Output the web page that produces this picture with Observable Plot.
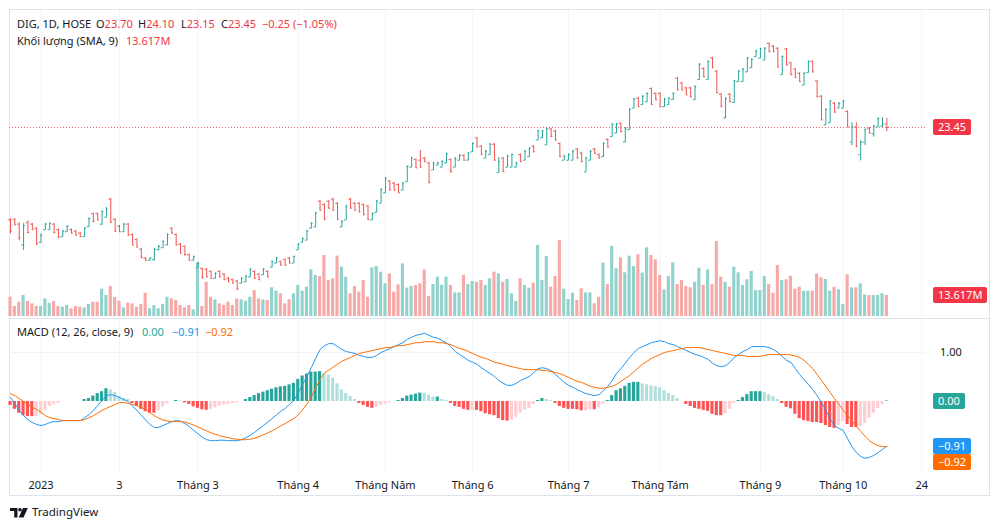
<!DOCTYPE html>
<html><head><meta charset="utf-8">
<script src="https://cdn.jsdelivr.net/npm/d3@7"></script>
<script src="https://cdn.jsdelivr.net/npm/@observablehq/plot@0.6"></script>
<style>
body{margin:0;background:#fff;font-family:"Noto Sans",sans-serif;color:#131722;}
#wrap{position:relative;width:1000px;height:530px;overflow:hidden;background:#fff;}
.t{position:absolute;font-size:11px;line-height:14px;white-space:nowrap;color:#131722;}
.r{color:#f23645;}
.box{position:absolute;color:#fff;font-size:11px;line-height:16px;height:16px;padding:0 5px;border-radius:2px;white-space:nowrap;}
.line{position:absolute;background:#e0e3eb;}
</style></head><body><div id="wrap"></div>
<script>
// ---------- DATA ----------
const opens=[16.8,16.85,16.5,15.0,16.6,16.5,16.2,15.2,16.1,16.1,
16.5,16.1,15.6,15.95,16.1,16.0,15.85,15.6,16.3,17.25,
17.25,16.5,17.0,18.3,16.85,16.35,15.95,16.5,15.75,15.4,
14.7,14.05,13.9,13.95,14.65,14.8,15.0,16.2,15.75,15.05,
14.9,14.3,13.9,13.35,13.3,13.25,13.1,12.6,13.1,12.9,
12.6,12.5,12.4,12.25,12.35,12.7,13.1,12.9,12.85,13.1,
13.4,13.7,13.8,13.95,14.05,13.7,14.65,15.2,15.35,16.2,
16.3,18.15,17.9,18.15,18.3,18.0,16.3,16.8,18.3,18.0,
18.0,17.9,17.8,16.8,17.35,18.0,18.75,19.6,19.45,19.35,
18.95,19.55,20.6,21.15,21.1,21.25,20.9,20.4,20.75,20.6,
20.9,21.15,20.6,21.1,21.45,21.1,21.7,22.7,22.1,21.25,
21.5,22.25,20.2,21.25,20.6,20.6,20.6,21.5,21.1,21.35,
22.1,22.55,22.7,22.2,23.35,23.2,22.3,21.1,21.1,21.1,
21.9,21.6,20.25,21.1,21.9,21.5,21.35,22.6,22.8,23.05,
23.75,22.4,23.3,24.85,25.55,25.1,25.3,26.25,25.9,25.9,
24.95,25.1,25.45,27.0,26.65,26.3,26.3,25.45,26.9,27.7,
26.9,28.45,27.5,25.85,24.15,25.85,25.25,26.75,26.75,27.45,
27.75,28.55,28.45,28.3,29.5,29.3,29.15,27.25,29.1,28.1,
27.65,27.35,26.5,27.4,28.2,26.8,25.7,23.65,23.8,25.2,
24.85,24.85,24.6,22.4,23.5,21.5,22.4,23.4,23.0,23.5,
23.55,23.7];
const highs=[16.9,16.9,16.6,16.55,16.75,16.55,16.25,15.8,16.55,16.6,
16.55,16.15,16.05,16.4,16.15,16.05,15.9,16.25,16.95,17.3,
17.3,17.45,17.7,18.35,16.9,16.4,16.55,16.55,15.8,15.45,
14.75,14.1,14.1,14.75,14.95,15.3,15.8,16.25,15.8,15.1,
14.95,14.35,14.2,13.75,13.35,13.3,13.15,13.0,13.15,12.95,
12.65,12.55,12.45,12.65,12.8,13.3,13.15,12.95,13.3,13.15,
13.85,14.1,13.85,14.0,14.1,14.2,15.1,15.5,16.05,16.6,
17.35,18.2,17.95,18.2,18.35,18.05,16.75,17.85,18.35,18.05,
18.05,17.95,17.85,17.3,18.2,19.05,19.85,19.65,19.5,19.4,
19.5,20.7,21.3,21.2,21.8,21.3,20.95,20.95,20.95,21.05,
21.6,21.2,21.3,21.5,21.5,21.65,22.35,22.75,22.15,21.8,
22.3,22.3,21.3,21.3,21.45,21.55,20.95,21.55,21.8,22.0,
22.15,23.25,23.25,23.4,23.4,23.25,22.35,21.45,21.55,21.8,
21.95,21.65,21.3,21.8,21.95,21.55,22.35,22.65,23.75,23.75,
23.8,23.45,24.8,25.55,25.6,25.75,25.95,26.3,25.95,25.95,
25.55,25.6,25.95,27.05,26.7,26.35,26.35,26.45,28.05,27.75,
28.25,28.5,27.55,25.9,25.6,25.9,26.85,27.55,27.7,28.5,
28.4,29.0,29.15,29.2,29.55,29.35,29.2,28.6,29.15,28.15,
27.7,27.4,27.4,28.25,28.25,26.85,25.75,24.8,25.4,25.25,
25.25,25.4,24.65,23.8,23.8,22.5,23.35,23.45,23.6,24.15,
24.15,24.10];
const lows=[15.8,16.4,15.3,14.6,15.8,16.05,14.95,15.1,16.05,16.05,
15.8,15.45,15.55,15.9,15.8,15.65,15.55,15.55,16.25,16.6,
16.75,16.4,16.95,16.55,15.9,15.9,15.9,15.65,14.95,14.8,
14.0,13.85,13.85,13.85,14.6,14.75,14.95,15.8,14.95,14.35,
14.2,13.85,13.85,13.3,12.55,12.65,12.55,12.55,12.65,12.45,
12.3,12.2,11.7,12.2,12.3,12.65,12.55,12.45,12.8,12.65,
13.35,13.65,13.5,13.5,13.65,13.65,14.6,15.15,15.3,16.15,
16.25,17.45,16.75,17.6,17.45,16.75,16.25,16.75,17.6,17.45,
17.3,17.1,16.75,16.75,17.3,17.95,18.7,18.9,18.9,18.7,
18.9,19.5,20.55,20.5,20.55,20.95,19.4,20.35,20.7,20.55,
20.85,20.15,20.55,21.05,21.05,21.05,21.65,22.0,21.45,21.2,
21.45,21.05,20.15,20.2,20.55,20.55,20.55,20.95,21.05,21.3,
21.65,22.5,22.65,22.15,22.75,22.5,21.3,21.05,21.05,21.05,
21.2,20.95,20.2,21.05,21.55,21.2,21.3,22.0,22.75,23.0,
23.1,22.35,23.25,24.8,24.9,25.05,25.25,25.05,25.4,24.9,
24.9,25.05,25.4,26.1,26.1,25.75,25.6,25.4,26.85,27.05,
26.85,27.7,25.9,24.9,24.1,25.25,25.2,26.7,26.7,27.4,
27.7,28.5,28.4,28.25,28.85,28.85,27.75,27.2,27.9,27.2,
27.0,26.7,26.45,27.35,27.4,25.6,23.95,23.6,23.75,24.5,
24.8,24.8,23.45,22.15,22.0,21.05,22.15,23.0,22.75,23.45,
23.45,23.15];
const closes=[16.0,16.45,15.5,16.4,15.9,16.1,15.1,15.7,16.5,16.55,
15.9,15.55,16.0,16.35,15.85,15.7,15.6,16.2,16.9,16.7,
16.8,17.4,17.6,16.65,16.0,15.95,16.5,15.7,15.0,14.85,
14.1,13.9,14.05,14.7,14.9,15.25,15.75,15.85,15.0,14.4,
14.3,13.9,14.15,13.7,12.65,12.7,12.6,12.95,12.7,12.5,
12.35,12.25,11.85,12.6,12.75,13.25,12.6,12.5,13.25,12.7,
13.8,14.05,13.55,13.55,13.7,14.15,15.05,15.45,16.0,16.55,
17.3,17.5,16.85,17.65,17.5,16.85,16.7,17.8,17.65,17.5,
17.4,17.2,16.85,17.25,18.15,19.0,19.8,18.95,18.95,18.75,
19.45,20.65,21.25,20.55,20.6,21.0,19.5,20.9,20.9,21.0,
21.55,20.3,21.2,21.45,21.1,21.6,22.3,22.05,21.5,21.75,
22.25,21.1,21.0,20.3,21.4,21.5,20.9,21.0,21.75,21.95,
21.7,23.2,23.2,23.35,22.8,22.55,21.35,21.4,21.5,21.75,
21.25,21.0,21.25,21.75,21.6,21.25,22.3,22.05,23.7,23.7,
23.15,23.4,24.75,25.5,24.95,25.7,25.9,25.1,25.45,24.95,
25.5,25.55,25.9,26.15,26.15,25.8,25.65,26.4,28.0,27.1,
28.2,27.75,25.95,24.95,25.55,25.3,26.8,27.5,27.65,28.45,
28.35,28.95,29.1,29.15,28.9,28.9,27.8,28.55,27.95,27.25,
27.05,26.75,27.35,28.2,27.45,25.65,24.0,24.75,25.35,24.55,
25.2,25.35,23.5,23.5,22.1,22.4,23.3,23.05,23.55,24.1,
23.7,23.45];
// volume, millions of shares
const volumes=[12.5,6.5,9.3,13.6,9.7,8.2,6.5,6.5,11.4,8.6,
9.7,6.5,6.0,7.1,5.0,6.5,6.0,5.6,7.8,9.3,
9.3,17.7,13.6,19.4,12.5,9.9,5.6,8.6,8.2,6.0,
7.8,15.1,5.0,7.1,5.0,7.8,12.5,11.4,10.4,7.1,
5.6,7.1,4.3,34.6,6.5,22.2,12.5,10.8,8.2,7.1,
9.3,7.1,11.4,10.8,9.9,12.5,16.8,11.4,10.8,10.4,
18.6,16.4,14.7,8.2,10.8,14.7,20.1,16.4,19.0,30.2,
26.6,25.9,39.5,23.3,24.4,39.1,32.0,25.5,14.7,19.4,
15.8,23.3,12.5,31.5,32.4,28.7,21.2,27.6,15.8,20.5,
34.1,18.4,19.4,20.1,21.2,30.2,13.0,20.7,25.5,20.3,
25.5,20.1,15.3,15.3,26.6,20.7,22.7,22.2,23.3,20.1,
24.4,28.7,27.6,22.2,24.0,14.7,9.7,24.4,20.1,18.4,
21.6,46.0,23.3,38.9,19.0,25.9,49.2,17.7,11.0,15.1,
10.4,17.9,15.3,15.3,8.2,12.5,34.6,20.7,45.4,30.9,
38.0,28.3,39.1,32.4,40.0,28.1,44.5,39.5,36.7,26.6,
17.3,25.9,34.8,20.7,23.3,19.4,18.6,22.2,31.3,20.1,
30.2,20.7,48.6,25.5,22.2,19.0,32.0,28.3,20.1,23.8,
29.2,16.8,16.8,25.9,20.7,15.1,33.0,23.3,23.8,26.1,
17.7,19.0,16.2,16.4,16.4,27.6,25.1,24.0,16.4,19.0,
17.3,7.8,27.0,18.6,18.6,21.2,14.0,13.6,13.6,13.6,
14.7,13.617];
const macdLine=[0.08,-0.04,-0.18,-0.29,-0.37,-0.43,-0.47,-0.49,-0.47,-0.43,
-0.41,-0.41,-0.39,-0.39,-0.39,-0.39,-0.39,-0.33,-0.27,-0.18,
-0.08,0.02,0.12,0.14,0.12,0.08,0.04,0.00,-0.10,-0.18,
-0.28,-0.38,-0.47,-0.53,-0.53,-0.49,-0.45,-0.41,-0.39,-0.40,
-0.45,-0.51,-0.59,-0.66,-0.73,-0.78,-0.80,-0.80,-0.79,-0.79,
-0.80,-0.80,-0.80,-0.78,-0.74,-0.69,-0.63,-0.56,-0.49,-0.42,
-0.35,-0.27,-0.20,-0.14,-0.06,0.02,0.18,0.35,0.51,0.69,
0.88,1.06,1.14,1.18,1.18,1.12,1.06,1.02,1.00,0.98,
0.94,0.92,0.90,0.90,0.94,1.00,1.04,1.08,1.12,1.16,
1.20,1.27,1.31,1.35,1.37,1.39,1.35,1.31,1.29,1.24,
1.20,1.12,1.02,0.96,0.90,0.84,0.80,0.76,0.69,0.63,
0.57,0.51,0.43,0.37,0.33,0.33,0.37,0.43,0.47,0.51,
0.59,0.67,0.69,0.67,0.63,0.55,0.47,0.39,0.33,0.29,
0.24,0.20,0.16,0.14,0.12,0.14,0.22,0.31,0.43,0.57,
0.67,0.78,0.90,1.00,1.08,1.12,1.16,1.20,1.22,1.24,
1.22,1.18,1.16,1.12,1.08,1.04,1.00,0.96,0.94,0.90,
0.86,0.78,0.73,0.71,0.73,0.80,0.90,0.96,1.02,1.06,
1.12,1.12,1.12,1.12,1.10,1.06,1.00,0.92,0.84,0.80,
0.67,0.55,0.45,0.35,0.24,0.12,-0.02,-0.18,-0.35,-0.49,
-0.55,-0.59,-0.76,-0.92,-1.04,-1.12,-1.16,-1.14,-1.10,-1.04,
-0.98,-0.91];
const signalLine=[0.16,0.12,0.06,0.00,-0.06,-0.12,-0.16,-0.22,-0.29,-0.33,
-0.35,-0.37,-0.39,-0.39,-0.39,-0.39,-0.39,-0.37,-0.33,-0.29,
-0.24,-0.18,-0.14,-0.10,-0.06,-0.02,-0.02,-0.04,-0.06,-0.08,
-0.12,-0.17,-0.23,-0.29,-0.34,-0.38,-0.40,-0.41,-0.41,-0.41,
-0.42,-0.45,-0.48,-0.52,-0.56,-0.60,-0.64,-0.67,-0.70,-0.72,
-0.74,-0.76,-0.77,-0.78,-0.78,-0.77,-0.75,-0.72,-0.68,-0.64,
-0.60,-0.55,-0.50,-0.45,-0.40,-0.35,-0.27,-0.17,-0.05,0.09,
0.28,0.45,0.58,0.64,0.70,0.76,0.82,0.86,0.90,0.94,
0.98,1.00,1.02,1.04,1.06,1.08,1.10,1.10,1.12,1.14,
1.14,1.16,1.18,1.20,1.20,1.22,1.22,1.22,1.20,1.20,
1.18,1.16,1.12,1.08,1.06,1.02,0.98,0.94,0.90,0.88,
0.84,0.80,0.78,0.76,0.73,0.71,0.69,0.67,0.65,0.65,
0.65,0.65,0.63,0.63,0.61,0.59,0.57,0.53,0.49,0.45,
0.41,0.39,0.35,0.31,0.29,0.27,0.27,0.29,0.31,0.35,
0.41,0.47,0.53,0.61,0.69,0.76,0.82,0.88,0.92,0.96,
1.00,1.02,1.04,1.06,1.08,1.10,1.10,1.10,1.10,1.08,
1.06,1.04,1.02,1.00,0.98,0.96,0.94,0.94,0.94,0.92,
0.92,0.92,0.92,0.94,0.96,0.96,0.96,0.96,0.96,0.95,
0.93,0.90,0.84,0.76,0.67,0.55,0.43,0.31,0.18,0.06,
-0.06,-0.18,-0.29,-0.39,-0.51,-0.61,-0.71,-0.80,-0.86,-0.90,
-0.92,-0.92];
const tickBars=[7,25,43,66,86,106,128,149,172,191,209];
const tickLabels=["2023","3","Tháng 3","Tháng 4","Tháng Năm","Tháng 6","Tháng 7","Tháng Tám","Tháng 9","Tháng 10","24"];
const lastClose=23.45, lastVolume=13.617;

// ---------- build ----------
const UP="#26a69a", DN="#ef5350";
const bars=opens.map((o,i)=>({i,o,h:highs[i],l:lows[i],c:closes[i],v:volumes[i],up:closes[i]>=o,
  m:macdLine[i],s:signalLine[i],hist:macdLine[i]-signalLine[i]}));
bars.forEach((d,k)=>{const p=k?bars[k-1].hist:0;
  d.hc=d.hist>=0?(d.hist>=p?"#26a69a":"#b2dfdb"):(d.hist>p?"#ffcdd2":"#ff5252");});
const xDom=[-0.229,209.86];
const base={width:981,marginLeft:0,marginRight:65,marginTop:0,marginBottom:0,
  color:{type:"identity"},
  style:{background:"transparent",overflow:"visible",fontFamily:"Noto Sans",fontSize:"11px",color:"#131722"}};
const grid="#f0f3fa";
const wrap=document.getElementById("wrap");
function place(el,l,t){el.style.position="absolute";el.style.left=l+"px";el.style.top=t+"px";wrap.appendChild(el);return el;}
function div(cls,html,l,t,extra){const d=document.createElement("div");d.className=cls;d.innerHTML=html;d.style.left=l+"px";d.style.top=t+"px";if(extra)Object.assign(d.style,extra);wrap.appendChild(d);return d;}

// frame
div("line","",9,9,{width:981+"px",height:"1px"});
div("line","",9,495,{width:981+"px",height:"1px"});
div("line","",9,9,{width:"1px",height:"487px"});
div("line","",989,9,{width:"1px",height:"487px"});
div("line","",9,318,{width:"981px",height:"1px"});

// volume pane (behind price)
const volPlot=Plot.plot({...base,height:308,marginBottom:2,
  x:{domain:xDom,axis:null},y:{domain:[0,198.3],axis:null},
  marks:[
    Plot.ruleX(tickBars,{stroke:grid}),
    Plot.rect(bars,{x1:d=>d.i-0.36,x2:d=>d.i+0.36,y1:d=>0,y2:"v",fill:d=>d.up?"#92d2cc":"#f7a9a7"})
  ]});
place(volPlot,9,10);

// price pane
const pricePlot=Plot.plot({...base,height:308,
  x:{domain:xDom,axis:null},y:{domain:[9.71,31.87],axis:null},
  marks:[
    Plot.ruleY([lastClose],{stroke:"#f23645",strokeDasharray:"1 2",strokeOpacity:0.8}),
    Plot.ruleX(bars,{x:"i",y1:"l",y2:"h",stroke:d=>d.up?UP:DN}),
    Plot.ruleY(bars,{y:"o",x1:d=>d.i-0.4,x2:"i",stroke:d=>d.up?UP:DN}),
    Plot.ruleY(bars,{y:"c",x1:"i",x2:d=>d.i+0.4,stroke:d=>d.up?UP:DN})
  ]});
place(pricePlot,9,10);

// MACD pane
const macdPlot=Plot.plot({...base,height:176,marginBottom:23,
  x:{domain:xDom,label:null},y:{domain:[-1.449,1.673],axis:null},
  marks:[
    Plot.ruleX(tickBars,{stroke:grid}),
    Plot.ruleY([1],{stroke:grid}),
    Plot.rect(bars,{x1:d=>d.i-0.36,x2:d=>d.i+0.36,y1:d=>0,y2:"hist",fill:"hc"}),
    Plot.line(bars,{x:"i",y:"m",stroke:"#2196f3",strokeWidth:1}),
    Plot.line(bars,{x:"i",y:"s",stroke:"#ff6d00",strokeWidth:1}),
    Plot.axisX(tickBars,{tickFormat:d=>tickLabels[tickBars.indexOf(d)],tickSize:0,tickPadding:9,fontSize:11,fill:"#131722",label:null})
  ]});
place(macdPlot,9,319);

// legends
div("t","DIG, 1D, HOSE",17,17);
div("t",'O<span class="r">23.70</span>',96,17);
div("t",'H<span class="r">24.10</span>',138,17);
div("t",'L<span class="r">23.15</span>',181,17);
div("t",'C<span class="r">23.45</span>',221,17);
div("t",'<span class="r">−0.25 (−1.05%)</span>',262,17);
div("t","Khối lượng (SMA, 9)",17,34);
div("t",'<span class="r">13.617M</span>',126,34);
div("t","MACD (12, 26, close, 9)",17,325);
div("t",'<span style="color:#26a69a">0.00</span>',142,325);
div("t",'<span style="color:#2196f3">−0.91</span>',172,325);
div("t",'<span style="color:#ff6d00">−0.92</span>',205,325);

// right-side scale labels via scales
const yP=pricePlot.scale("y"), yV=volPlot.scale("y"), yM=macdPlot.scale("y");
div("box",lastClose.toFixed(2),933,10+yP.apply(lastClose)-8,{background:"#f23645"});
div("box",lastVolume.toFixed(3)+"M",933,10+yV.apply(lastVolume)-8,{background:"#f23645"});
div("t","1.00",940,319+yM.apply(1)-7);
div("box","0.00",933,319+yM.apply(0)-8,{background:"#26a69a"});
div("box","−0.91",933,319+yM.apply(macdLine[macdLine.length-1])-8,{background:"#2196f3"});
div("box","−0.92",933,319+yM.apply(macdLine[macdLine.length-1])+8,{background:"#ff6d00"});

// TradingView logo
const logo=document.createElementNS("http://www.w3.org/2000/svg","svg");
logo.setAttribute("width","18");logo.setAttribute("height","10");
logo.innerHTML='<path d="M0 0h7.5v9.5H4.2V3H0z" fill="#131722"/><circle cx="10" cy="1.8" r="1.8" fill="#131722"/><path d="M13 0h4.8l-4.3 9.5H8.7z" fill="#131722"/>';
place(logo,10,508);
div("t","TradingView",32,505,{fontSize:"11.5px"});
</script></body></html>
